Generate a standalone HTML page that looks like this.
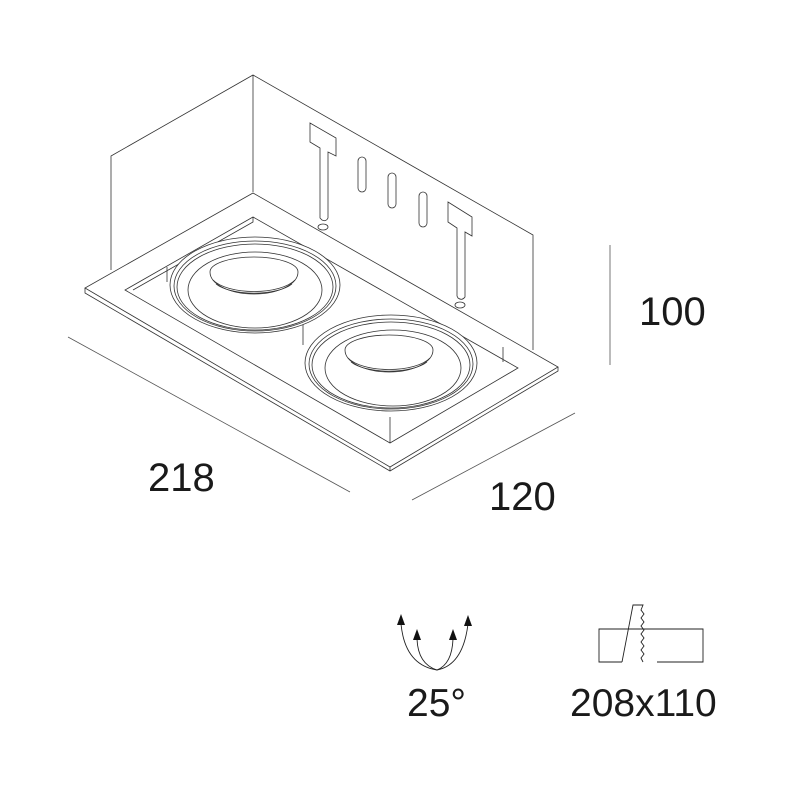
<!DOCTYPE html>
<html><head><meta charset="utf-8"><style>
body{margin:0;background:#fff}
svg{display:block}
text{font-family:"Liberation Sans",sans-serif;fill:#1a1a1a}
</style></head><body>
<svg width="800" height="800" viewBox="0 0 800 800" xmlns="http://www.w3.org/2000/svg">
<g fill="none" stroke="#333" stroke-width="0.8">
<path d="M111,270 L111,156 L253,75 L533,235 L533,350"/>
<path d="M253,75 L253,192"/>
<path d="M253,193 L85,288 L390,467 L558,367 Z" fill="#fff"/>
<path d="M85,288 L85,293 L390,471 L558,371 L558,367"/>
<path d="M390,467 L390,471"/>
<path d="M253,217 L125,290 L390,443 L518,368 Z"/>
<path d="M253,217 L253,222 L133,290"/>
<path d="M390,417 L390,443 M167,267 L167,282 M503,347 L503,362 M303,301 L303,345"/>
<path d="M310,123 L336,138 L336,156 L328,152 L328,218 Q326,222 322,220 L320,218 L320,148 L310,142 Z"/>
<path d="M448,202 L472,217 L472,236 L465,232 L465,297 Q462,301 458,298 L457,296 L457,228 L448,222 Z"/>
<ellipse cx="323" cy="227" rx="5" ry="3"/>
<ellipse cx="460" cy="305" rx="5" ry="3"/>
<rect x="358" y="157" width="8" height="35" rx="4"/>
<rect x="388" y="173" width="8" height="35" rx="4"/>
<rect x="419" y="192" width="8" height="35" rx="4"/>
<ellipse cx="255" cy="285" rx="85" ry="48" fill="#fff"/>
<ellipse cx="255" cy="286" rx="81" ry="45"/>
<ellipse cx="255" cy="287" rx="78" ry="43"/>
<ellipse cx="255" cy="290" rx="67" ry="38"/>
<path d="M210,272 A44,15 0 0 1 298,272 A44,22 0 0 1 210,272 Z"/>
<path d="M213,280 A44,18 0 0 0 295,280"/>
<path d="M216,284 A42,16 0 0 0 292,284"/>
<ellipse cx="391" cy="363" rx="86" ry="48" fill="#fff"/>
<ellipse cx="391" cy="364" rx="82" ry="45"/>
<ellipse cx="391" cy="365" rx="79" ry="43"/>
<ellipse cx="393" cy="368" rx="68" ry="38"/>
<path d="M345,350 A44,15 0 0 1 433,350 A44,22 0 0 1 345,350 Z"/>
<path d="M348,358 A44,18 0 0 0 430,358"/>
<path d="M351,362 A42,16 0 0 0 427,362"/>
</g>
<g stroke="#555" stroke-width="0.8" fill="none">
<path d="M68,337 L350,492"/>
<path d="M412,500 L575,413"/>
<path d="M610,245 L610,365"/>
</g>
<text x="148" y="491" font-size="40">218</text>
<text x="489" y="510" font-size="40">120</text>
<text x="639" y="325" font-size="40">100</text>
<g fill="none" stroke="#222" stroke-width="0.9">
<path d="M401,624 Q405,665 437,670 Q463,665 468,624"/>
<path d="M417,639 Q418,664 437,670 Q452,664 453,639"/>
</g>
<g fill="#111">
<path d="M401,614 L397,625 L405,625 Z"/>
<path d="M468,615 L464,626 L472,626 Z"/>
<path d="M417,629 L413,640 L421,640 Z"/>
<path d="M453,629 L449,640 L457,640 Z"/>
</g>
<text x="407" y="716" font-size="39">25°</text>
<g fill="none" stroke="#222" stroke-width="0.9">
<path d="M622,662 L599,662 L599,629 L703,629 L703,662 L657,662"/>
<path d="M622,662 L633,605 L643,605 L641,610 L644,614 L641,618 L644,622 L641,626 L644,630 L641,634 L644,638 L641,642 L644,646 L641,650 L644,654 L641,658 L643,662"/>
</g>
<text x="570" y="716" font-size="39">208x110</text>
</svg>
</body></html>
